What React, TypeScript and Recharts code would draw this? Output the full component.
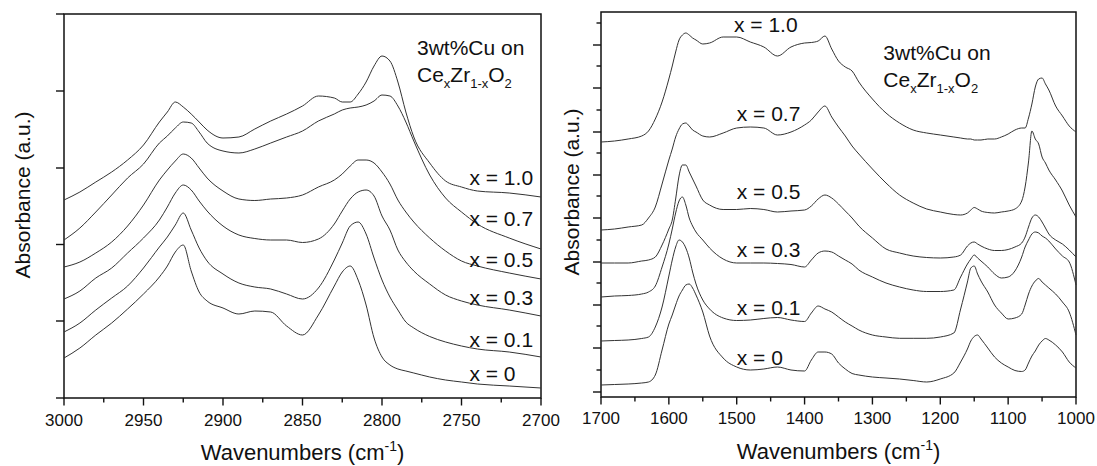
import { LineChart, Line, XAxis, YAxis, ReferenceArea, ReferenceDot } from 'recharts'

// left panel, 3000–2700 cm-1 (absorbance, stacked, a.u.)
const leftWave = [3000, 2990, 2980, 2970, 2960, 2950, 2940, 2935, 2930, 2925, 2920, 2915, 2910, 2900, 2890, 2880, 2870, 2860, 2850, 2840, 2830, 2825, 2820, 2815, 2810, 2805, 2800, 2795, 2790, 2785, 2780, 2770, 2760, 2750, 2740, 2720, 2700]
const left10 = [1.98, 2.06, 2.16, 2.26, 2.38, 2.53, 2.76, 2.86, 2.96, 2.91, 2.84, 2.76, 2.68, 2.60, 2.61, 2.69, 2.77, 2.84, 2.92, 3.02, 3.00, 2.96, 2.96, 3.04, 3.16, 3.32, 3.42, 3.37, 3.16, 2.86, 2.61, 2.35, 2.17, 2.11, 2.07, 2.05, 2.01]
const left07 = [1.58, 1.70, 1.86, 2.03, 2.20, 2.34, 2.55, 2.62, 2.70, 2.76, 2.75, 2.66, 2.55, 2.47, 2.45, 2.49, 2.55, 2.61, 2.67, 2.77, 2.84, 2.88, 2.90, 2.91, 2.93, 2.97, 3.03, 3.02, 2.92, 2.76, 2.57, 2.23, 2.00, 1.86, 1.74, 1.60, 1.49]
const left05 = [1.31, 1.36, 1.45, 1.56, 1.72, 1.93, 2.18, 2.28, 2.37, 2.44, 2.40, 2.30, 2.20, 2.07, 1.99, 1.975, 1.99, 2.00, 2.03, 2.11, 2.18, 2.24, 2.32, 2.38, 2.38, 2.35, 2.26, 2.14, 1.98, 1.86, 1.76, 1.60, 1.47, 1.37, 1.32, 1.25, 1.19]
const left03 = [0.99, 1.07, 1.20, 1.30, 1.45, 1.60, 1.78, 1.91, 2.05, 2.13, 2.08, 1.97, 1.87, 1.72, 1.63, 1.595, 1.58, 1.58, 1.555, 1.59, 1.74, 1.87, 1.99, 2.06, 2.08, 2.02, 1.82, 1.68, 1.48, 1.36, 1.27, 1.14, 1.03, 0.97, 0.93, 0.88, 0.82]
const left01 = [0.66, 0.75, 0.88, 1.00, 1.12, 1.30, 1.51, 1.61, 1.73, 1.85, 1.68, 1.50, 1.37, 1.24, 1.15, 1.11, 1.09, 1.04, 0.99, 1.10, 1.38, 1.55, 1.72, 1.76, 1.64, 1.40, 1.18, 1.01, 0.88, 0.76, 0.70, 0.615, 0.56, 0.52, 0.49, 0.46, 0.41]
const left00 = [0.40, 0.50, 0.63, 0.75, 0.89, 1.04, 1.21, 1.32, 1.46, 1.53, 1.27, 1.06, 0.97, 0.90, 0.84, 0.87, 0.86, 0.72, 0.63, 0.83, 1.12, 1.26, 1.32, 1.18, 0.93, 0.60, 0.41, 0.33, 0.29, 0.27, 0.25, 0.21, 0.18, 0.16, 0.14, 0.12, 0.10]

const leftXMajor = [3000, 2950, 2900, 2850, 2800, 2750, 2700]
const leftXMinor = [2975, 2925, 2875, 2825, 2775, 2725]
const leftYMajor = [0, 0.77, 1.535, 2.3, 3.07, 3.84]

// right panel, 1700–1000 cm-1
const rightWave = [1700, 1680, 1660, 1640, 1630, 1620, 1610, 1600, 1595, 1590, 1585, 1580, 1575, 1570, 1565, 1560, 1550, 1540, 1520, 1500, 1480, 1460, 1440, 1420, 1400, 1390, 1380, 1370, 1360, 1350, 1340, 1330, 1320, 1300, 1280, 1260, 1240, 1220, 1200, 1180, 1170, 1160, 1155, 1150, 1145, 1140, 1130, 1120, 1110, 1100, 1090, 1080, 1075, 1070, 1065, 1060, 1055, 1050, 1045, 1040, 1030, 1020, 1010, 1000]
const right10 = [2.55, 2.56, 2.58, 2.61, 2.66, 2.78, 2.95, 3.18, 3.31, 3.45, 3.57, 3.62, 3.64, 3.62, 3.59, 3.57, 3.53, 3.54, 3.60, 3.60, 3.55, 3.50, 3.41, 3.50, 3.54, 3.545, 3.56, 3.61, 3.48, 3.36, 3.30, 3.26, 3.15, 2.98, 2.84, 2.74, 2.67, 2.64, 2.62, 2.60, 2.59, 2.58, 2.58, 2.57, 2.57, 2.57, 2.58, 2.58, 2.60, 2.63, 2.67, 2.69, 2.69, 2.79, 2.93, 3.10, 3.18, 3.19, 3.13, 3.07, 2.91, 2.81, 2.71, 2.65]
const right07 = [1.67, 1.68, 1.70, 1.72, 1.79, 1.90, 2.13, 2.37, 2.48, 2.60, 2.68, 2.73, 2.74, 2.71, 2.67, 2.65, 2.61, 2.60, 2.64, 2.69, 2.70, 2.69, 2.62, 2.65, 2.72, 2.77, 2.85, 2.91, 2.80, 2.70, 2.61, 2.51, 2.43, 2.28, 2.14, 2.02, 1.94, 1.88, 1.85, 1.825, 1.82, 1.84, 1.87, 1.895, 1.88, 1.86, 1.845, 1.84, 1.85, 1.86, 1.88, 1.96, 2.10, 2.35, 2.66, 2.58, 2.53, 2.40, 2.34, 2.27, 2.17, 2.06, 1.92, 1.80]
const right05 = [1.34, 1.34, 1.34, 1.36, 1.37, 1.40, 1.52, 1.68, 1.77, 1.98, 2.21, 2.32, 2.32, 2.25, 2.18, 2.11, 1.97, 1.92, 1.875, 1.875, 1.885, 1.875, 1.85, 1.86, 1.87, 1.91, 1.98, 2.02, 1.99, 1.93, 1.86, 1.79, 1.71, 1.59, 1.48, 1.44, 1.41, 1.395, 1.39, 1.40, 1.42, 1.51, 1.54, 1.55, 1.53, 1.51, 1.48, 1.465, 1.465, 1.475, 1.50, 1.54, 1.60, 1.70, 1.79, 1.82, 1.80, 1.75, 1.69, 1.63, 1.57, 1.53, 1.47, 1.40]
const right03 = [1.00, 1.01, 1.015, 1.03, 1.05, 1.11, 1.30, 1.53, 1.68, 1.84, 1.96, 2.00, 1.92, 1.79, 1.71, 1.65, 1.57, 1.49, 1.38, 1.34, 1.34, 1.34, 1.335, 1.325, 1.30, 1.37, 1.44, 1.46, 1.45, 1.41, 1.37, 1.33, 1.27, 1.20, 1.14, 1.10, 1.07, 1.055, 1.055, 1.07, 1.20, 1.33, 1.38, 1.42, 1.39, 1.36, 1.30, 1.23, 1.19, 1.20, 1.26, 1.40, 1.50, 1.57, 1.63, 1.65, 1.64, 1.61, 1.59, 1.56, 1.48, 1.41, 1.35, 1.12]
const right01 = [0.56, 0.565, 0.57, 0.585, 0.60, 0.70, 0.90, 1.21, 1.37, 1.50, 1.57, 1.55, 1.49, 1.39, 1.25, 1.13, 0.97, 0.88, 0.79, 0.765, 0.77, 0.785, 0.795, 0.77, 0.755, 0.84, 0.91, 0.88, 0.85, 0.80, 0.75, 0.71, 0.67, 0.62, 0.60, 0.587, 0.587, 0.587, 0.60, 0.64, 0.88, 1.15, 1.29, 1.31, 1.23, 1.16, 1.05, 0.92, 0.84, 0.78, 0.79, 0.83, 0.92, 1.03, 1.11, 1.16, 1.185, 1.15, 1.12, 1.09, 1.03, 0.95, 0.85, 0.62]
const right00 = [0.12, 0.125, 0.13, 0.14, 0.15, 0.22, 0.47, 0.73, 0.82, 0.92, 1.01, 1.07, 1.12, 1.13, 1.09, 1.02, 0.85, 0.61, 0.39, 0.30, 0.27, 0.28, 0.30, 0.27, 0.26, 0.37, 0.45, 0.45, 0.43, 0.34, 0.28, 0.235, 0.22, 0.20, 0.19, 0.18, 0.165, 0.15, 0.18, 0.24, 0.35, 0.48, 0.56, 0.605, 0.62, 0.58, 0.49, 0.40, 0.34, 0.30, 0.265, 0.255, 0.27, 0.34, 0.41, 0.46, 0.52, 0.56, 0.585, 0.57, 0.52, 0.45, 0.35, 0.29]

const rightXMajor = [1700, 1600, 1500, 1400, 1300, 1200, 1100, 1000]
const rightXMinor = [1650, 1550, 1450, 1350, 1250, 1150, 1050]
const rightYMajor = [0.05, 0.49, 0.92, 1.35, 1.79, 2.22, 2.65, 3.09, 3.52]
const rightYMinor = [0.27, 0.71, 1.14, 1.57, 2.01, 2.44, 2.87, 3.31, 3.74]

const seriesKeys = ['s10', 's07', 's05', 's03', 's01', 's00']
const seriesLabels = ['x = 1.0', 'x = 0.7', 'x = 0.5', 'x = 0.3', 'x = 0.1', 'x = 0']

const INK = '#111'
const TRACE = '#333'
const FONT = '"Liberation Sans", Arial, Helvetica, sans-serif'

const byNumber = (a: number, b: number) => a - b

function table(wave: number[], cols: number[][]) {
  return wave.map((w, i) => {
    const row: Record<string, number> = { w }
    seriesKeys.forEach((k, j) => { row[k] = cols[j][i] })
    return row
  })
}

const leftData = table(leftWave, [left10, left07, left05, left03, left01, left00])
const rightData = table(rightWave, [right10, right07, right05, right03, right01, right00])

function XTick(props: any) {
  const { x, y, payload, majors, gap } = props
  const major = majors.includes(payload.value)
  return (
    <g>
      <line x1={x} x2={x} y1={y} y2={y + (major ? 7.5 : 4.5)} stroke={INK} strokeWidth={1.4} />
      {major && (
        <text x={x} y={y + gap} textAnchor="middle" fontSize={17} fontFamily={FONT} fill={INK}>
          {payload.value}
        </text>
      )}
    </g>
  )
}

function YTick(props: any) {
  const { x, y, payload, majors } = props
  const major = majors.includes(payload.value)
  return <line x1={x - (major ? 8 : 4.5)} x2={x} y1={y} y2={y} stroke={INK} strokeWidth={1.4} />
}

function XTitle(props: any) {
  const { viewBox, gap } = props
  const cx = viewBox.x + viewBox.width / 2
  return (
    <text x={cx} y={viewBox.y + gap} textAnchor="middle" fontSize={22} fontFamily={FONT} fill={INK}>
      Wavenumbers (cm<tspan fontSize={14} dy={-9}>-1</tspan><tspan dy={9}>)</tspan>
    </text>
  )
}

function YTitle(props: any) {
  const { viewBox, bx, shift } = props
  const cy = viewBox.y + viewBox.height / 2 + shift
  return (
    <text x={bx} y={cy} transform={`rotate(-90, ${bx}, ${cy})`} textAnchor="middle" fontSize={21} fontFamily={FONT} fill={INK}>
      Absorbance (a.u.)
    </text>
  )
}

function SeriesTag(props: any) {
  return (
    <text x={props.cx} y={props.cy} fontSize={21} fontFamily={FONT} fill={INK}>
      {props.text}
    </text>
  )
}

function Caption(props: any) {
  const { cx, cy } = props
  return (
    <g>
      <text x={cx} y={cy} fontSize={21} fontFamily={FONT} fill={INK}>3wt%Cu on</text>
      <text x={cx} y={cy + 27} fontSize={21} fontFamily={FONT} fill={INK}>
        Ce<tspan fontSize={13} dy={6}>x</tspan>
        <tspan dy={-6}>Zr</tspan>
        <tspan fontSize={13} dy={6}>1-x</tspan>
        <tspan dy={-6}>O</tspan>
        <tspan fontSize={13} dy={6}>2</tspan>
      </text>
    </g>
  )
}

interface PanelProps {
  data: Record<string, number>[]
  xDomain: [number, number]
  xMajor: number[]
  xMinor: number[]
  yTop: number
  yMajor: number[]
  yMinor: number[]
  width: number
  axisW: number
  axisH: number
  top: number
  right: number
  labelGap: number
  titleGap: number
  yTitleX: number
  yTitleShift: number
  tagAt: { w: number; a: number }[]
  captionAt: { w: number; a: number }
}

function Panel(p: PanelProps) {
  const xTicks = [...p.xMajor, ...p.xMinor].sort(byNumber)
  const yTicks = [...p.yMajor, ...p.yMinor].sort(byNumber)
  return (
    <LineChart width={p.width} height={466} data={p.data} margin={{ top: p.top, right: p.right, bottom: 0, left: 0 }}>
      <XAxis
        type="number"
        dataKey="w"
        domain={p.xDomain}
        reversed
        ticks={xTicks}
        interval={0}
        height={p.axisH}
        axisLine={false}
        tickLine={false}
        tickSize={0}
        tickMargin={0}
        tick={<XTick majors={p.xMajor} gap={p.labelGap} />}
        label={<XTitle gap={p.titleGap} />}
      />
      <YAxis
        type="number"
        domain={[0, p.yTop]}
        ticks={yTicks}
        interval={0}
        width={p.axisW}
        axisLine={false}
        tickLine={false}
        tickSize={0}
        tickMargin={0}
        tick={<YTick majors={p.yMajor} />}
        label={<YTitle bx={p.yTitleX} shift={p.yTitleShift} />}
      />
      <ReferenceArea x1={p.xDomain[0]} x2={p.xDomain[1]} y1={0} y2={p.yTop} fill="none" stroke={INK} strokeWidth={1.5} />
      {seriesKeys.map(k => (
        <Line key={k} type="monotone" dataKey={k} stroke={TRACE} strokeWidth={1} dot={false} isAnimationActive={false} />
      ))}
      {seriesLabels.map((s, i) => (
        <ReferenceDot key={s} x={p.tagAt[i].w} y={p.tagAt[i].a} r={0} shape={<SeriesTag text={s} />} />
      ))}
      <ReferenceDot x={p.captionAt.w} y={p.captionAt.a} r={0} shape={<Caption />} />
    </LineChart>
  )
}

export default function App() {
  return (
    <div style={{ position: 'absolute', left: 0, top: 0, width: 1097, height: 466, background: '#fff' }}>
      <div style={{ position: 'absolute', left: 0, top: 0 }}>
        <Panel
          data={leftData}
          xDomain={[2700, 3000]}
          xMajor={leftXMajor}
          xMinor={leftXMinor}
          yTop={3.84}
          yMajor={leftYMajor}
          yMinor={[]}
          width={560}
          axisW={64}
          axisH={68}
          top={14}
          right={19}
          labelGap={28}
          titleGap={62}
          yTitleX={30}
          yTitleShift={-11}
          tagAt={[
            { w: 2745, a: 2.13 },
            { w: 2745, a: 1.72 },
            { w: 2745, a: 1.31 },
            { w: 2745, a: 0.93 },
            { w: 2745, a: 0.51 },
            { w: 2745, a: 0.17 },
          ]}
          captionAt={{ w: 2778, a: 3.43 }}
        />
      </div>
      <div style={{ position: 'absolute', left: 540, top: 0 }}>
        <Panel
          data={rightData}
          xDomain={[1000, 1700]}
          xMajor={rightXMajor}
          xMinor={rightXMinor}
          yTop={3.85}
          yMajor={rightYMajor}
          yMinor={rightYMinor}
          width={557}
          axisW={61}
          axisH={69}
          top={12}
          right={21}
          labelGap={27}
          titleGap={62}
          yTitleX={38.5}
          yTitleShift={-12.5}
          tagAt={[
            { w: 1504, a: 3.65 },
            { w: 1500, a: 2.76 },
            { w: 1500, a: 1.98 },
            { w: 1500, a: 1.4 },
            { w: 1500, a: 0.82 },
            { w: 1500, a: 0.32 },
          ]}
          captionAt={{ w: 1284, a: 3.37 }}
        />
      </div>
    </div>
  )
}
